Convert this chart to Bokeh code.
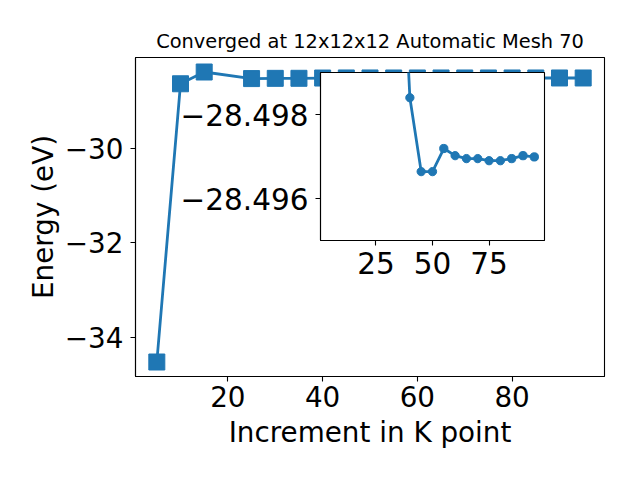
import numpy as np
from bokeh.plotting import figure
from bokeh.models import Range1d, FixedTicker, CustomJSTickFormatter
from bokeh.embed import file_html
from bokeh.resources import INLINE

# ---- data ----
kpoints = [5, 10, 15, 25, 30, 35, 40, 45, 50, 55, 60, 65, 70, 75, 80, 85, 90, 95]
energies = [-34.53, -28.62, -28.37, -28.51, -28.505, -28.504,
            -28.49840, -28.49664, -28.49664, -28.49719, -28.49702, -28.49695,
            -28.49695, -28.49690, -28.49690, -28.49695, -28.49702, -28.49699]
main_xticks = [20, 40, 60, 80]
main_yticks = [-34, -32, -30]
inset_xticks = [25, 50, 75]
inset_yticks = [-28.498, -28.496]
inset_ylim_bottom = -28.495
inset_ylim_top = -28.499
inset_first_k = 35
title_text = "Converged at 12x12x12 Automatic Mesh 70"
xlabel = "Increment in K point"
ylabel = "Energy (eV)"

BLUE = "#1f77b4"
FONT = "DejaVu Sans"

kx = np.array(kpoints, dtype=float)
ey = np.array(energies, dtype=float)


def padded(lo, hi, frac=0.05):
    span = hi - lo
    return lo - frac * span, hi + frac * span


xr = padded(kx.min(), kx.max())
yr = padded(ey.min(), ey.max())

fmt_int = CustomJSTickFormatter(code="return tick.toFixed(0).replace('-', '\\u2212');")
fmt_inset = CustomJSTickFormatter(code="return tick.toFixed(3).replace('-', '\\u2212');")


def style_axes(fig, label_size):
    for ax in fig.xaxis + fig.yaxis:
        ax.major_label_text_font = FONT
        ax.major_label_text_font_size = label_size
        ax.major_label_text_color = "black"
        ax.axis_label_text_font = FONT
        ax.axis_label_text_font_size = "27.8px"
        ax.axis_label_text_font_style = "normal"
        ax.axis_label_text_color = "black"
        ax.major_tick_in = 0
        ax.major_tick_out = 5
        ax.major_tick_line_color = "black"
        ax.major_tick_line_width = 1.1
        ax.minor_tick_line_color = None
        ax.axis_line_color = "black"
        ax.axis_line_width = 1.1
    fig.xgrid.visible = False
    fig.ygrid.visible = False
    fig.outline_line_color = "black"
    fig.outline_line_width = 1.1


# ---- main plot ----
p = figure(frame_width=469, frame_height=319,
           min_border_left=135, min_border_right=20,
           min_border_top=57, min_border_bottom=88,
           x_range=Range1d(*xr), y_range=Range1d(*yr),
           output_backend="svg", toolbar_location=None, title=title_text)
p.title.align = "center"
p.title.text_font = FONT
p.title.text_font_size = "19.4px"
p.title.text_font_style = "normal"
p.title.text_color = "black"
p.title.standoff = 9

p.line(kx, ey, line_color=BLUE, line_width=2.8)
p.scatter(kx, ey, marker="square", size=16, fill_color=BLUE, line_color=BLUE)

p.xaxis.ticker = FixedTicker(ticks=main_xticks)
p.yaxis.ticker = FixedTicker(ticks=main_yticks)
p.xaxis.formatter = fmt_int
p.yaxis.formatter = fmt_int
p.xaxis.axis_label = xlabel
p.yaxis.axis_label = ylabel
style_axes(p, "27.8px")
p.xaxis.major_label_standoff = 4
p.yaxis.major_label_standoff = 7
p.xaxis.axis_label_standoff = 6
p.yaxis.axis_label_standoff = 2
p.background_fill_color = "white"
p.border_fill_color = "white"

# ---- inset ----
mask = kx >= inset_first_k
ix = kx[mask]
iy = ey[mask]

q = figure(frame_width=224, frame_height=168,
           min_border_left=150, min_border_right=4,
           min_border_top=4, min_border_bottom=45,
           x_range=Range1d(*xr), y_range=Range1d(inset_ylim_bottom, inset_ylim_top),
           output_backend="svg", toolbar_location=None,
           styles={"position": "absolute", "left": "170px", "top": "68px"})
q.line(ix, iy, line_color=BLUE, line_width=2.8)
q.scatter(ix, iy, marker="circle", size=8.3, fill_color=BLUE, line_color=BLUE)
q.xaxis.ticker = FixedTicker(ticks=inset_xticks)
q.yaxis.ticker = FixedTicker(ticks=inset_yticks)
q.xaxis.formatter = fmt_int
q.yaxis.formatter = fmt_inset
style_axes(q, "29.5px")
q.xaxis.major_label_standoff = 6
q.yaxis.major_label_standoff = 7
q.background_fill_color = "white"
q.border_fill_color = None
q.border_fill_alpha = 0

open("out.html", "w").write(file_html([p, q], INLINE))
